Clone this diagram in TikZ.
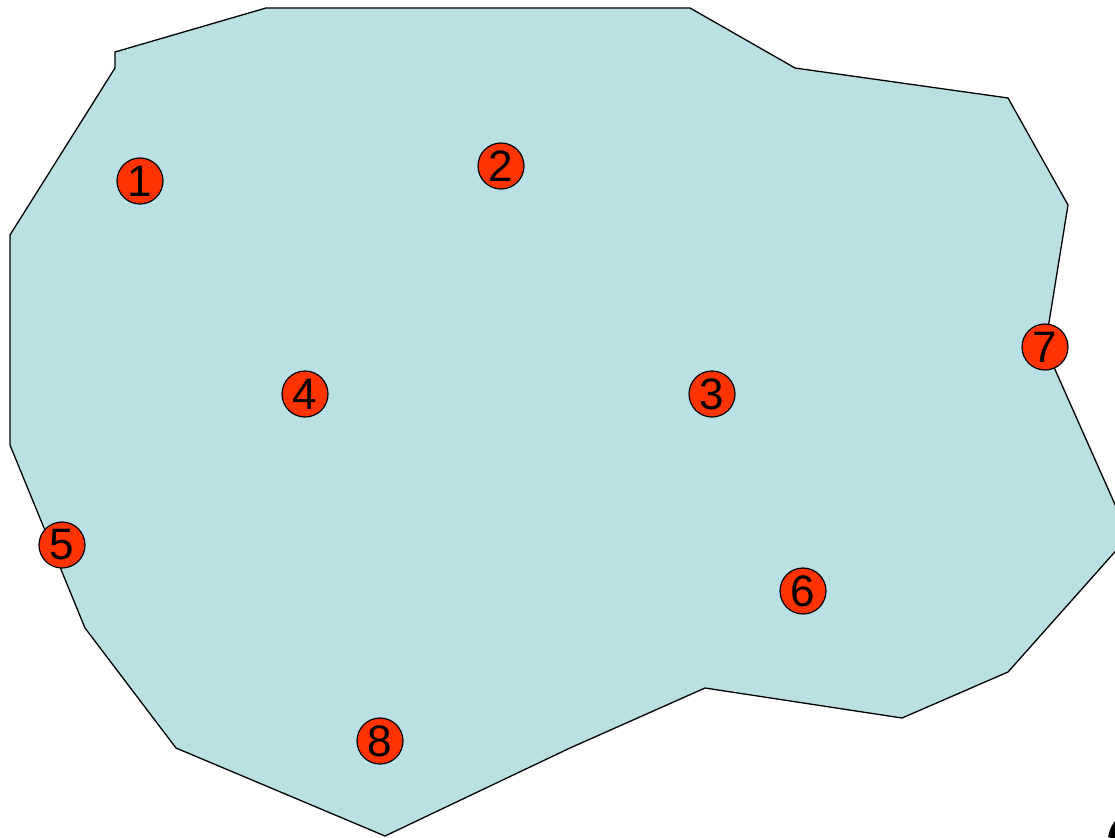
\documentclass[tikz,border=0pt]{standalone}
\usepackage{fontspec}
\setmainfont{Liberation Sans}
\definecolor{area}{HTML}{BBE0E3}
\definecolor{dot}{HTML}{FF3300}
\tikzset{pt/.style={circle,draw=black,line width=1.2pt,fill=dot,minimum size=46pt,inner sep=0pt,font=\fontsize{44}{44}\selectfont}}
\begin{document}
\begin{tikzpicture}[x=1pt,y=-1pt]
\useasboundingbox (0,0) rectangle (1115,837);
\begin{scope}
\clip (0,0) rectangle (1115,837);
\draw[fill=area,line width=1.3pt,line join=miter]
 (115,68) -- (115,52) -- (266,8) -- (690,8) -- (795,68) -- (1008,98) -- (1068,205)
 -- (1045,347) -- (1129,536) -- (1008,672) -- (902,718) -- (705,688) -- (570,748)
 -- (385,836) -- (176,748) -- (85,628) -- (10,445) -- (10,235) -- cycle;
\fill[black] (1108,837) .. controls (1110,828) and (1113,822) .. (1118,818) -- (1118,840) -- cycle;
\end{scope}
\node[pt] (n1) at (140,181) {1};
\node[pt] (n2) at (501,166) {2};
\node[pt] (n3) at (712,394) {3};
\node[pt] (n4) at (305,394) {4};
\node[pt] (n5) at (62,545) {5};
\node[pt] (n6) at (803,591) {6};
\node[pt] (n7) at (1045,347) {7};
\node[pt] (n8) at (380,741) {8};
\end{tikzpicture}
\end{document}
